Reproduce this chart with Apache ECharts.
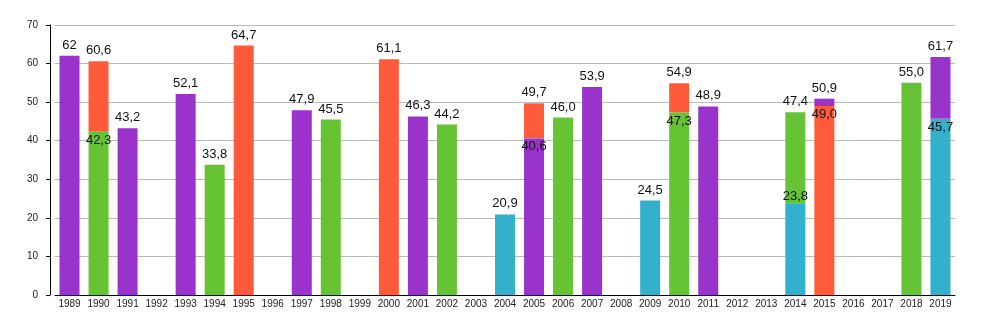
<!DOCTYPE html>
<html>
<head>
<meta charset="utf-8">
<script src="https://cdn.jsdelivr.net/npm/echarts@6/dist/echarts.min.js"></script>
<style>html,body{margin:0;padding:0;background:#fff}#c{width:1000px;height:330px}</style>
</head>
<body>
<div id="c"></div>
<script>
const years = ['1989','1990','1991','1992','1993','1994','1995','1996','1997','1998','1999','2000','2001','2002','2003','2004','2005','2006','2007','2008','2009','2010','2011','2012','2013','2014','2015','2016','2017','2018','2019'];
// lower segment group and value
const lowerGroup = ['P','G','P',null,'P','G','O',null,'P','G',null,'O','P','G',null,'C','P','G','P',null,'C','G','P',null,null,'C','O',null,null,'G','C'];
const lowerValue = [62,42.3,43.2,null,52.1,33.8,64.7,null,47.9,45.5,null,61.1,46.3,44.2,null,20.9,40.6,46.0,53.9,null,24.5,47.3,48.9,null,null,23.8,49.0,null,null,55.0,45.7];
// upper segment group and total value
const upperGroup = [null,'O',null,null,null,null,null,null,null,null,null,null,null,null,null,null,'O',null,null,null,null,'O',null,null,null,'G','P',null,null,null,'P'];
const totalValue = [null,60.6,null,null,null,null,null,null,null,null,null,null,null,null,null,null,49.7,null,null,null,null,54.9,null,null,null,47.4,50.9,null,null,null,61.7];
const lowerLabels = ['62','42,3','43,2','','52,1','33,8','64,7','','47,9','45,5','','61,1','46,3','44,2','','20,9','40,6','46,0','53,9','','24,5','47,3','48,9','','','23,8','49,0','','','55,0','45,7'];
const totalLabels = ['','60,6','','','','','','','','','','','','','','','49,7','','','','','54,9','','','','47,4','50,9','','','','61,7'];
const yTicks = [0,10,20,30,40,50,60,70];

const colors = {P:'#9933CC', G:'#66C333', O:'#FF5A3A', C:'#33B0CC'};
const lblStyle = {color:'#111', fontSize:13, fontFamily:'Liberation Sans, Arial, sans-serif'};
const labelAboveBoundary = years.indexOf('2014');

const lowerData = years.map((y,i) => {
  if (lowerValue[i] == null) return null;
  const stacked = totalValue[i] != null;
  let pos = 'top', dist = 4;
  if (stacked) { pos = 'insideTop'; dist = 2; }
  if (i === labelAboveBoundary) { pos = 'top'; dist = 0; }
  return {
    value: lowerValue[i],
    itemStyle: {color: colors[lowerGroup[i]]},
    label: Object.assign({show:true, position: pos, distance: dist,
      formatter: () => lowerLabels[i]}, lblStyle)
  };
});
const upperData = years.map((y,i) => {
  if (totalValue[i] == null) return null;
  return {
    value: +(totalValue[i] - lowerValue[i]).toFixed(2),
    itemStyle: {color: colors[upperGroup[i]]},
    label: Object.assign({show:true, position:'top', distance:4, formatter: () => totalLabels[i]}, lblStyle)
  };
});

const chart = echarts.init(document.getElementById('c'));
chart.setOption({
  animation:false,
  grid:{left:55, right:45, top:25, bottom:35},
  xAxis:{
    type:'category', data:years,
    axisLine:{show:true, lineStyle:{color:'#000', width:1}},
    axisTick:{show:false},
    axisLabel:{color:'#222', fontSize:10, margin:4, interval:0, fontFamily:'Liberation Sans, Arial, sans-serif'}
  },
  yAxis:{
    type:'value', min:yTicks[0], max:yTicks[yTicks.length-1], interval:10, offset:5,
    axisLine:{show:true, lineStyle:{color:'#000', width:1}},
    axisTick:{show:true, length:4, lineStyle:{color:'#000'}},
    axisLabel:{color:'#222', fontSize:10, margin:12, fontFamily:'Liberation Sans, Arial, sans-serif'},
    splitLine:{show:true, lineStyle:{color:'#bbbbbb', width:1}}
  },
  series:[
    {type:'bar', stack:'a', barWidth:20, data:lowerData, z:4},
    {type:'bar', stack:'a', barWidth:20, data:upperData, z:3}
  ]
});
</script>
</body>
</html>
